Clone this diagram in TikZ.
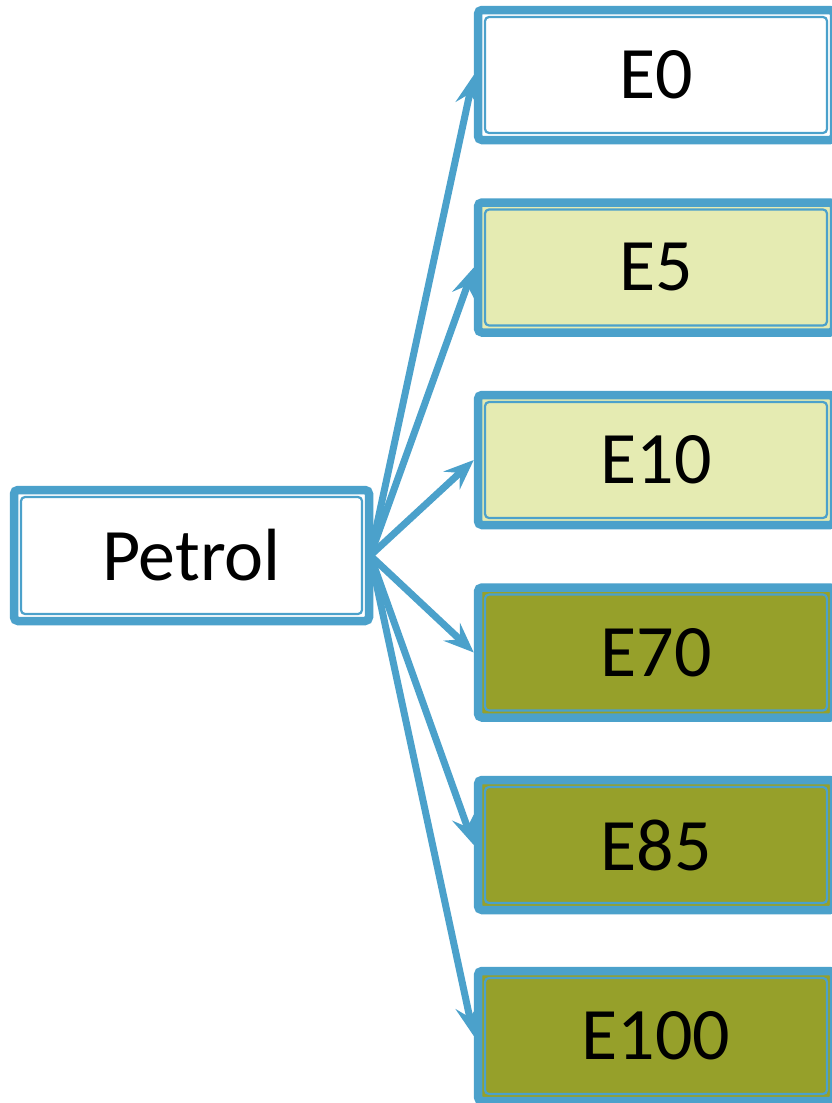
\documentclass[tikz,border=0pt]{standalone}
\usepackage{fontspec}
\setmainfont{Carlito}
\usetikzlibrary{arrows.meta}
\definecolor{bblue}{RGB}{75,161,203}
\definecolor{lightgreen}{RGB}{229,235,178}
\definecolor{olive}{RGB}{150,160,42}
\tikzset{
  fuelbox/.style={draw=bblue, line width=8.5pt, rounded corners=4pt,
    minimum width=356pt, minimum height=130pt, inner sep=0pt,
    font=\fontsize{74}{88}\selectfont, text=black,
    path picture={\draw[bblue, line width=2.2pt]
      ([xshift=7pt,yshift=-7pt]path picture bounding box.north west) rectangle
      ([xshift=-7pt,yshift=7pt]path picture bounding box.south east);}},
  conn/.style={draw=bblue, line width=7pt,
    -{Stealth[length=30pt, width=24pt, inset=11pt]}}
}
\begin{document}
\begin{tikzpicture}[x=1pt,y=-1pt]
\useasboundingbox (0,0) rectangle (832,1103);
\clip (0,0) rectangle (832,1103);
\fill[white] (0,0) rectangle (832,1103);
\node[fuelbox, fill=white, minimum width=355pt, minimum height=131pt] (petrol) at (191.5,555.5) {Petrol};
\node[fuelbox, fill=white] (e0) at (656,75) {E0};
\node[fuelbox, fill=lightgreen] (e5) at (656,267.5) {E5};
\node[fuelbox, fill=lightgreen] (e10) at (656,460) {E10};
\node[fuelbox, fill=olive] (e70) at (656,652.5) {E70};
\node[fuelbox, fill=olive] (e85) at (656,845) {E85};
\node[fuelbox, fill=olive] (e100) at (656,1036) {E100};
\foreach \t in {e0,e5,e10,e70,e85,e100}
  \draw[conn] ([xshift=-3pt]petrol.east) -- (\t.west);
\end{tikzpicture}
\end{document}
